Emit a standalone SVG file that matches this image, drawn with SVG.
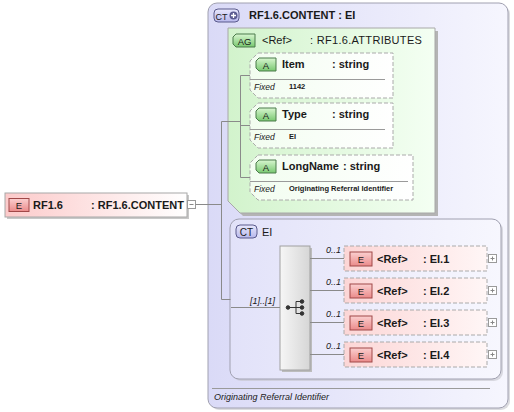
<svg xmlns="http://www.w3.org/2000/svg" width="514" height="412" viewBox="0 0 514 412">
<style>
text{font-family:"Liberation Sans",Arial,sans-serif;fill:#1a1a1a}
.t{font-size:11px;font-weight:bold}
.n{font-size:11px}
.fx{font-size:8.5px;font-style:italic}
.fv{font-size:7.5px;font-weight:bold}
.oc{font-size:9px;font-style:italic}
.bd{font-size:9.5px;text-anchor:middle}
.ln{fill:none;stroke:#8a8a8a;stroke-width:1}
.dash{stroke:#aaaaaa;stroke-width:1;stroke-dasharray:4,2}
.sh{fill:#c4c4cc}
.sep{stroke:#9a9a9a;stroke-width:1}
.ebadge{fill:url(#gEb);stroke:#a04848;stroke-width:1}
.abadge{fill:url(#gAb);stroke:#4a7a4a;stroke-width:1}
.ctbadge{fill:url(#gCb);stroke:#5a5a8c;stroke-width:1}
.plus{fill:#fff;stroke:#9a9a9a;stroke-width:1}
</style>
<defs>
<linearGradient id="gOuter" x1="0" y1="0" x2="1" y2="0"><stop offset="0" stop-color="#dadaf7"/><stop offset="1" stop-color="#f6f6fe"/></linearGradient>
<linearGradient id="gCT" x1="0" y1="0" x2="1" y2="0"><stop offset="0" stop-color="#e2e2f9"/><stop offset="1" stop-color="#f7f7fe"/></linearGradient>
<linearGradient id="gAG" x1="0" y1="0" x2="1" y2="0"><stop offset="0" stop-color="#d2f3cc"/><stop offset="1" stop-color="#f4fff3"/></linearGradient>
<linearGradient id="gAttr" x1="0" y1="0" x2="1" y2="0"><stop offset="0" stop-color="#f2fdf0"/><stop offset="1" stop-color="#ffffff"/></linearGradient>
<linearGradient id="gEl" x1="0" y1="0" x2="1" y2="0"><stop offset="0" stop-color="#fcd6d6"/><stop offset="1" stop-color="#fff6f6"/></linearGradient>
<linearGradient id="gRoot" x1="0" y1="0" x2="1" y2="0"><stop offset="0" stop-color="#fccaca"/><stop offset="1" stop-color="#ffffff"/></linearGradient>
<linearGradient id="gEb" x1="0" y1="0" x2="0" y2="1"><stop offset="0" stop-color="#fbd0d0"/><stop offset="1" stop-color="#ea8a8a"/></linearGradient>
<linearGradient id="gAb" x1="0" y1="0" x2="0" y2="1"><stop offset="0" stop-color="#d8f6d0"/><stop offset="1" stop-color="#78c870"/></linearGradient>
<linearGradient id="gCb" x1="0" y1="0" x2="0" y2="1"><stop offset="0" stop-color="#e8e8fc"/><stop offset="1" stop-color="#b8b8ec"/></linearGradient>
<linearGradient id="gSeq" x1="0" y1="0" x2="1" y2="0"><stop offset="0" stop-color="#f6f6f6"/><stop offset="1" stop-color="#d6d6d6"/></linearGradient>
</defs>

<g id="outer-ct">
<rect x="210" y="5" width="300" height="405" rx="9" class="sh" opacity="0.6"/>
<rect x="208" y="3" width="300" height="405" rx="9" fill="url(#gOuter)" stroke="#a0a0b0"/>
<rect x="214" y="9" width="25" height="13" rx="4" class="ctbadge"/>
<text x="215.5" y="19.5" style="font-size:9px">CT</text>
<circle cx="233.5" cy="15.5" r="4" fill="#5a5a90"/>
<path d="M231,15.5H236M233.5,13V18" stroke="#fff" stroke-width="1.3"/>
<text x="249" y="19" class="t">RF1.6.CONTENT : EI</text>
<line x1="212" y1="388.5" x2="490" y2="388.5" class="sep"/>
<text x="214" y="400" style="font-size:9px;font-style:italic">Originating Referral Identifier</text>
</g>

<g id="ag">
<path d="M231,31H438V216H243L231,204Z" fill="#b4b4b4"/>
<path d="M228,28H435V213H240L228,201Z" fill="url(#gAG)" stroke="#a8a8a8"/>
<path d="M236,34H255V47H236L233,44V37Z" class="abadge"/>
<text x="244.5" y="44.5" class="bd">AG</text>
<text x="262" y="44" class="n">&lt;Ref&gt;</text>
<text x="310" y="44" class="n" style="letter-spacing:0.3px">: RF1.6.ATTRIBUTES</text>
</g>

<g id="attr-item">
<path d="M258,53H393V98H258L250,90V61Z" fill="url(#gAttr)" class="dash"/>
<path d="M259,58H276V71H259L256,68V61Z" class="abadge"/>
<text x="266" y="68.5" class="bd">A</text>
<text x="282" y="68" class="t">Item</text>
<text x="332" y="68" class="t">: string</text>
<line x1="250" y1="79.5" x2="385" y2="79.5" class="sep"/>
<text x="254" y="90" class="fx">Fixed</text>
<text x="289" y="89" class="fv">1142</text>
</g>

<g id="attr-type">
<path d="M258,103H393V148H258L250,140V111Z" fill="url(#gAttr)" class="dash"/>
<path d="M259,108H276V121H259L256,118V111Z" class="abadge"/>
<text x="266" y="118.5" class="bd">A</text>
<text x="282" y="118" class="t">Type</text>
<text x="332" y="118" class="t">: string</text>
<line x1="250" y1="129.5" x2="385" y2="129.5" class="sep"/>
<text x="254" y="140" class="fx">Fixed</text>
<text x="289" y="139" class="fv">EI</text>
</g>

<g id="attr-longname">
<path d="M258,155H413V200H258L250,192V163Z" fill="url(#gAttr)" class="dash"/>
<path d="M259,160H276V173H259L256,170V163Z" class="abadge"/>
<text x="266" y="170.5" class="bd">A</text>
<text x="282" y="170" class="t">LongName</text>
<text x="343" y="170" class="t">: string</text>
<line x1="250" y1="181.5" x2="408" y2="181.5" class="sep"/>
<text x="254" y="192" class="fx">Fixed</text>
<text x="289" y="191" class="fv">Originating Referral Identifier</text>
</g>

<g id="ct-ei">
<rect x="232" y="221" width="271" height="160" rx="9" class="sh" opacity="0.6"/>
<rect x="230" y="219" width="271" height="160" rx="9" fill="url(#gCT)" stroke="#a0a0b0"/>
<rect x="236" y="225" width="21" height="13" rx="4" class="ctbadge"/>
<text x="246.5" y="235.5" class="bd" style="font-size:10px">CT</text>
<text x="262" y="235.5" class="n">EI</text>
</g>

<g id="sequence">
<rect x="282" y="248" width="30" height="124" fill="#bcbcbc"/>
<rect x="280" y="246" width="30" height="124" fill="url(#gSeq)" stroke="#a0a0a0"/>
<g fill="#333" stroke="#333" stroke-width="1">
<circle cx="288" cy="307.5" r="1.8"/>
<line x1="288" y1="307.5" x2="296" y2="307.5"/>
<line x1="296" y1="301.5" x2="296" y2="313.5"/>
<line x1="296" y1="301.5" x2="302" y2="301.5"/>
<line x1="296" y1="313.5" x2="302" y2="313.5"/>
<line x1="296" y1="307.5" x2="302" y2="307.5"/>
<circle cx="302" cy="301.5" r="1.8"/>
<circle cx="302" cy="307.5" r="1.8"/>
<circle cx="302" cy="313.5" r="1.8"/>
</g>
</g>

<g id="el-ei1">
<rect x="344" y="246" width="143" height="25" fill="url(#gEl)" class="dash"/>
<rect x="350" y="252" width="22" height="14" class="ebadge"/>
<text x="361" y="263" class="bd">E</text>
<text x="377" y="262.5" class="t">&lt;Ref&gt;</text>
<text x="423" y="262.5" class="t">: EI.1</text>
<rect x="488.5" y="254.5" width="8" height="8" class="plus"/>
<path d="M490.5,258.5H494.5M492.5,256.5V260.5" stroke="#888"/>
</g>
<g id="el-ei2">
<rect x="344" y="278" width="143" height="25" fill="url(#gEl)" class="dash"/>
<rect x="350" y="284" width="22" height="14" class="ebadge"/>
<text x="361" y="295" class="bd">E</text>
<text x="377" y="294.5" class="t">&lt;Ref&gt;</text>
<text x="423" y="294.5" class="t">: EI.2</text>
<rect x="488.5" y="286.5" width="8" height="8" class="plus"/>
<path d="M490.5,290.5H494.5M492.5,288.5V292.5" stroke="#888"/>
</g>
<g id="el-ei3">
<rect x="344" y="310" width="143" height="25" fill="url(#gEl)" class="dash"/>
<rect x="350" y="316" width="22" height="14" class="ebadge"/>
<text x="361" y="327" class="bd">E</text>
<text x="377" y="326.5" class="t">&lt;Ref&gt;</text>
<text x="423" y="326.5" class="t">: EI.3</text>
<rect x="488.5" y="318.5" width="8" height="8" class="plus"/>
<path d="M490.5,322.5H494.5M492.5,320.5V324.5" stroke="#888"/>
</g>
<g id="el-ei4">
<rect x="344" y="342" width="143" height="25" fill="url(#gEl)" class="dash"/>
<rect x="350" y="348" width="22" height="14" class="ebadge"/>
<text x="361" y="359" class="bd">E</text>
<text x="377" y="358.5" class="t">&lt;Ref&gt;</text>
<text x="423" y="358.5" class="t">: EI.4</text>
<rect x="488.5" y="350.5" width="8" height="8" class="plus"/>
<path d="M490.5,354.5H494.5M492.5,352.5V356.5" stroke="#888"/>
</g>

<g id="root">
<rect x="7" y="195" width="182" height="24" fill="#c8c8c8"/>
<rect x="5" y="193" width="182" height="24" fill="url(#gRoot)" stroke="#a8a8a8"/>
<rect x="9" y="198.5" width="20" height="13" class="ebadge"/>
<text x="19" y="209" class="bd">E</text>
<text x="33" y="208.5" class="t">RF1.6</text>
<text x="91" y="208.5" class="t">: RF1.6.CONTENT</text>
<rect x="187.5" y="200.5" width="8" height="8" class="plus"/>
<line x1="189.5" y1="204.5" x2="193.5" y2="204.5" stroke="#888"/>
</g>

<g id="connectors" class="ln">
<path d="M195.5,204.5H221.5M221.5,121.5V299.5M221.5,121.5H240.5M221.5,299.5H230.5"/>
<path d="M240.5,75.5V177.5M240.5,75.5H250M240.5,125.5H250M240.5,177.5H250"/>
<path d="M231,307.5H280"/>
<path d="M310,258.5H344M310,290.5H344M310,322.5H344M310,354.5H344"/>
<text x="250" y="304" class="oc" stroke="none">[1]..[1]</text>
<text x="326" y="253" class="oc" stroke="none">0..1</text>
<text x="326" y="285" class="oc" stroke="none">0..1</text>
<text x="326" y="317" class="oc" stroke="none">0..1</text>
<text x="326" y="349" class="oc" stroke="none">0..1</text>
</g>
</svg>
